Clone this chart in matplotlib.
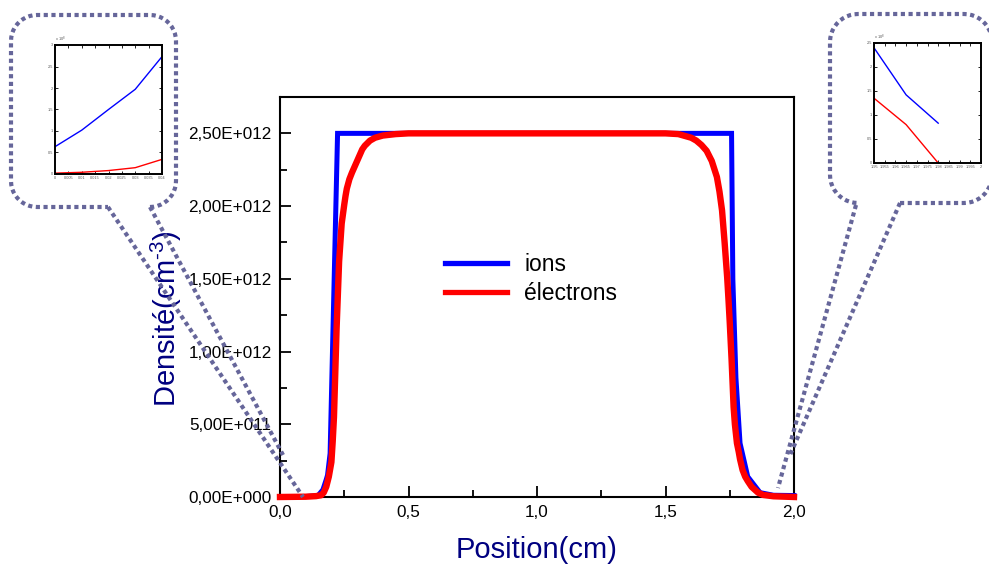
import numpy as np
import matplotlib
matplotlib.use("Agg")
import matplotlib.pyplot as plt
from matplotlib.ticker import FuncFormatter, MultipleLocator

plt.rcParams['font.family'] = ['Liberation Sans', 'DejaVu Sans']
plt.rcParams['mathtext.fontset'] = 'custom'
plt.rcParams['mathtext.rm'] = 'Liberation Sans'
plt.rcParams['mathtext.it'] = 'Liberation Sans:italic'
plt.rcParams['mathtext.bf'] = 'Liberation Sans:bold'

# ---------------- data ----------------
ion_x = [0.00, 0.10, 0.148, 0.167, 0.180, 0.185, 0.195, 0.224,
         1.757, 1.762, 1.774, 1.790, 1.820, 1.868, 1.920, 2.00]
ion_y = [0.000, 0.003, 0.010, 0.050, 0.120, 0.150, 0.300, 2.500,
         2.500, 1.500, 0.820, 0.370, 0.140, 0.030, 0.012, 0.010]

elec_x = [0.00, 0.10, 0.14, 0.160, 0.170, 0.180, 0.190, 0.200, 0.205, 0.210,
          0.215, 0.220, 0.230, 0.240, 0.250, 0.255, 0.260, 0.270, 0.280, 0.290,
          0.300, 0.310, 0.320, 0.330, 0.350, 0.370, 0.400, 0.450, 0.500,
          1.500, 1.550, 1.600, 1.620, 1.640, 1.660, 1.680, 1.700, 1.710, 1.720,
          1.730, 1.740, 1.745, 1.750, 1.757, 1.765, 1.770, 1.778, 1.785, 1.790,
          1.800, 1.810, 1.820, 1.835, 1.860, 1.880, 1.920, 2.000]
elec_y = [0.000, 0.002, 0.006, 0.012, 0.030, 0.070, 0.140, 0.240, 0.380, 0.550,
          0.850, 1.150, 1.620, 1.880, 2.010, 2.070, 2.120, 2.185, 2.230, 2.270,
          2.310, 2.350, 2.390, 2.415, 2.450, 2.470, 2.485, 2.495, 2.500,
          2.500, 2.495, 2.470, 2.450, 2.420, 2.380, 2.310, 2.200, 2.100, 1.970,
          1.750, 1.510, 1.360, 1.200, 0.950, 0.620, 0.500, 0.370, 0.310, 0.260,
          0.185, 0.140, 0.110, 0.070, 0.030, 0.014, 0.005, 0.000]
scale = 1e12

# left inset (zoom near x = 0)
inL_x = [0.00, 0.01, 0.02, 0.03, 0.04]
inL_ion = [0.635, 1.02, 1.50, 1.97, 2.73]
inL_elec = [0.02, 0.04, 0.08, 0.147, 0.34]
inL_xticks = [0, 0.005, 0.01, 0.015, 0.02, 0.025, 0.03, 0.035, 0.04]
inL_xlabels = ['0', '0.005', '0.01', '0.015', '0.02', '0.025', '0.03', '0.035', '0.04']
inL_yticks = [0, 0.5, 1, 1.5, 2, 2.5, 3]
inL_ylabels = ['0', '0.5', '1', '1.5', '2', '2.5', '3']

# right inset (zoom near x = 2)
inR_x = [1.95, 1.965, 1.98]
inR_ion = [2.40, 1.42, 0.83]
inR_elec = [1.35, 0.80, 0.00]
inR_xticks = [1.95, 1.955, 1.96, 1.965, 1.97, 1.975, 1.98, 1.985, 1.99, 1.995, 2.0]
inR_xlabels = ['1.95', '1.955', '1.96', '1.965', '1.97', '1.975', '1.98', '1.985', '1.99', '1.995', '2']
inR_yticks = [0, 0.5, 1, 1.5, 2, 2.5]
inR_ylabels = ['0', '0.5', '1', '1.5', '2', '2.5']

legend_labels = ['ions', 'électrons']
xlabel = 'Position(cm)'
ylabel = r'Densité(cm$^{\text{-3}}$)'

# ---------------- figure ----------------
W, H = 989, 568
fig = plt.figure(figsize=(W / 100, H / 100), dpi=100)

def frac(l, t, r, b):
    return [l / W, 1 - b / H, (r - l) / W, (b - t) / H]

ax = fig.add_axes(frac(280, 97, 794, 497))
ax.plot(ion_x, np.array(ion_y) * scale, color='#0000ff', lw=3.6,
        label=legend_labels[0], clip_on=False, solid_joinstyle='miter', zorder=3)
ax.plot(elec_x, np.array(elec_y) * scale, color='#ff0000', lw=4.6,
        label=legend_labels[1], clip_on=False, solid_joinstyle='round', zorder=4)
ax.set_xlim(0, 2.0)
ax.set_ylim(0, 2.75e12)

ax.xaxis.set_major_locator(MultipleLocator(0.5))
ax.xaxis.set_minor_locator(MultipleLocator(0.25))
ax.yaxis.set_major_locator(MultipleLocator(0.5e12))
ax.yaxis.set_minor_locator(MultipleLocator(0.25e12))

def yfmt(v, pos):
    if abs(v) < 1:
        return '0,00E+000'
    e = int(np.floor(np.log10(abs(v)) + 1e-9))
    m = v / 10 ** e
    return f"{m:.2f}".replace('.', ',') + f"E+{e:03d}"

ax.yaxis.set_major_formatter(FuncFormatter(yfmt))
ax.xaxis.set_major_formatter(FuncFormatter(lambda v, p: f"{v:.1f}".replace('.', ',')))
ax.tick_params(which='both', direction='in', top=False, right=False,
               labelsize=12.3, width=1.3, color='black', pad=6)
ax.tick_params(which='major', length=8)
ax.tick_params(which='minor', length=5)
for s in ax.spines.values():
    s.set_linewidth(1.5)

fig.text(537 / W, 1 - 550 / H, xlabel, color='#000080', fontsize=21,
         ha='center', va='center')
fig.text(166 / W, 1 - 319 / H, ylabel, color='#000080', fontsize=21,
         ha='center', va='center', rotation=90)

leg = ax.legend(loc='center left', bbox_to_anchor=(445 / W, 1 - 279 / H),
                bbox_transform=fig.transFigure, frameon=False, fontsize=16.5,
                handlelength=2.7, handletextpad=0.75, labelspacing=0.25,
                borderpad=0, borderaxespad=0)
for h in leg.get_lines():
    h.set_linewidth(3.8)

# ---------------- callout overlay ----------------
ov = fig.add_axes([0, 0, 1, 1])
ov.set_xlim(0, W)
ov.set_ylim(H, 0)
ov.axis('off')
ov.set_zorder(5)

dot_color = '#66669a'
dot_kw = dict(color=dot_color, lw=3.0, linestyle=(0, (1, 0.85)),
              dash_capstyle='butt', solid_capstyle='butt', clip_on=False)

def rounded_box(L, T, R, B, r, gx1, gx2):
    pts = [(gx2, B)]
    def arc(cx, cy, a0, a1):
        th = np.radians(np.linspace(a0, a1, 12))
        return list(zip(cx + r * np.cos(th), cy + r * np.sin(th)))
    pts += arc(R - r, B - r, 90, 0)
    pts += arc(R - r, T + r, 0, -90)
    pts += arc(L + r, T + r, -90, -180)
    pts += arc(L + r, B - r, -180, -270)
    pts.append((gx1, B))
    xs, ys = zip(*pts)
    ov.plot(xs, ys, **dot_kw)

rounded_box(11, 15, 176, 207, 26, 108, 150)
ov.plot([108, 303], [207, 497], **dot_kw)
ov.plot([150, 283], [207, 455], **dot_kw)

rounded_box(830, 14, 992, 203, 28, 856, 900)
ov.plot([856, 778], [205, 488], **dot_kw)
ov.plot([900, 790], [203, 455], **dot_kw)

# ---------------- insets ----------------
def make_inset(box, xs, yi, ye, xlim, ylim, xt, xl, yt, yl):
    a = fig.add_axes(frac(*box))
    a.set_zorder(6)
    a.plot(xs, yi, color='#0000ff', lw=1.0)
    a.plot(xs, ye, color='#ff0000', lw=1.0)
    a.set_xlim(*xlim)
    a.set_ylim(*ylim)
    a.set_xticks(xt)
    a.set_xticklabels(xl)
    a.set_yticks(yt)
    a.set_yticklabels(yl)
    a.tick_params(direction='in', top=True, right=True, length=2, width=0.6,
                  labelsize=2.8, labelcolor='#555555', pad=1.5)
    for s in a.spines.values():
        s.set_linewidth(1.4)
    a.text(0.0, 1.01, 'x 10$^{8}$', transform=a.transAxes, fontsize=2.8,
           color='#555555', ha='left', va='bottom')
    return a

make_inset((55, 45, 162, 174), inL_x, inL_ion, inL_elec, (0, 0.04), (0, 3),
           inL_xticks, inL_xlabels, inL_yticks, inL_ylabels)
make_inset((874, 43, 981, 163), inR_x, inR_ion, inR_elec, (1.95, 2.0), (0, 2.5),
           inR_xticks, inR_xlabels, inR_yticks, inR_ylabels)

fig.savefig('out.png', dpi=100)
